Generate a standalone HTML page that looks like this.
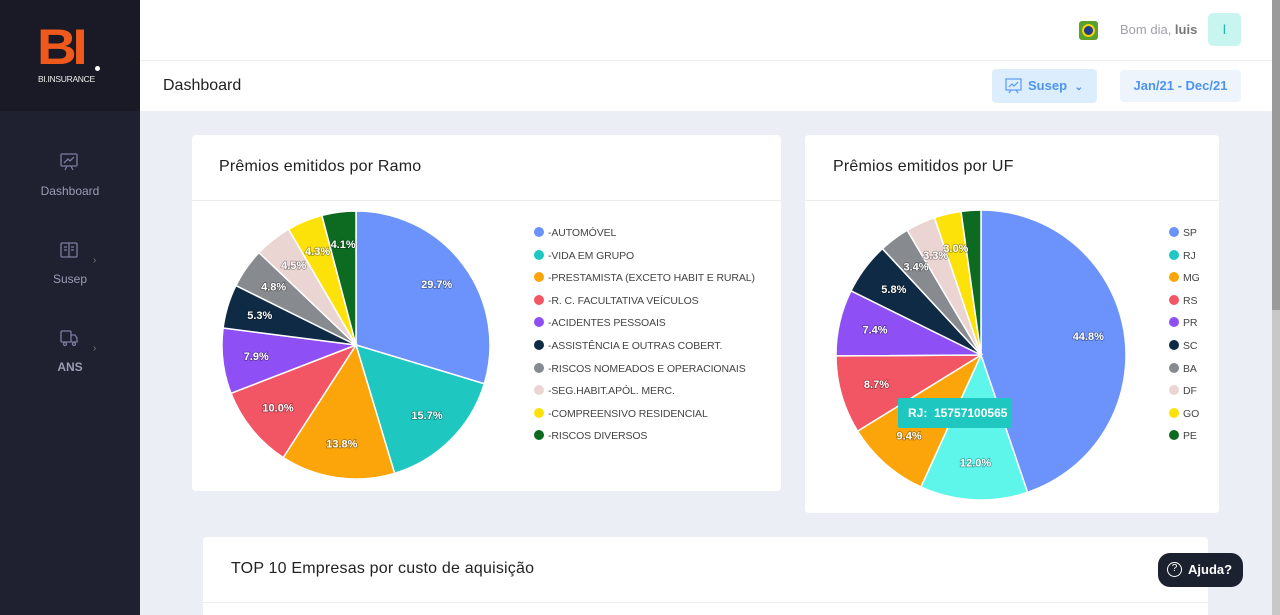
<!DOCTYPE html>
<html><head><meta charset="utf-8"><style>
*{margin:0;padding:0;box-sizing:border-box}
html,body{width:1280px;height:615px;overflow:hidden}
body{background:#eceef6;font-family:"Liberation Sans",sans-serif;position:relative}
.abs{position:absolute}
.side{left:0;top:0;width:140px;height:615px;background:#1f2030}
.logo{left:0;top:0;width:140px;height:111px;background:#191a25}
.nav{color:#9b9db5;font-size:12px;text-align:center;width:140px;left:0}
.card{background:#fff;border-radius:4px}
.ct{font-size:16px;color:#222;letter-spacing:.2px}
.leg{font-size:10.5px;color:#444;white-space:nowrap;letter-spacing:-.1px}
.dot{display:inline-block;width:10px;height:10px;border-radius:50%;margin-right:4px;vertical-align:-1px}
svg text{font-family:"Liberation Sans",sans-serif;font-weight:bold;font-size:11px;fill:#fff;text-anchor:middle;dominant-baseline:middle;paint-order:stroke;stroke:rgba(0,0,0,.35);stroke-width:1.5px}
</style></head><body>
<div class="abs side"></div>
<div class="abs logo">
 <div class="abs" style="left:37px;top:22px;font:bold 50px 'Liberation Sans';color:#ef5a1c;letter-spacing:-4px;line-height:50px;transform:scaleX(1.1);transform-origin:left">BI</div>
 <div class="abs" style="left:95px;top:66px;width:5px;height:5px;background:#fff;border-radius:50%"></div>
 <div class="abs" style="left:38px;top:74px;font-size:8.5px;color:#eee;letter-spacing:-.3px">BI.INSURANCE</div>
</div>
<svg class="abs" style="left:59px;top:152px" width="20" height="20" viewBox="0 0 20 20" fill="none" stroke="#7a7ca0" stroke-width="1.3"><rect x="2" y="2" width="16" height="12" rx="1"/><path d="M5 11l4-4 2 2 4-4M8 14l-2 4M12 14l2 4"/></svg>
<div class="abs nav" style="top:184px">Dashboard</div>
<svg class="abs" style="left:59px;top:240px" width="20" height="20" viewBox="0 0 20 20" fill="none" stroke="#7a7ca0" stroke-width="1.3"><rect x="2" y="3" width="16" height="14" rx="1"/><path d="M10 3v14M5 7h3M5 10h3M12 7h3M12 10h3"/></svg>
<div class="abs" style="left:93px;top:255px;color:#777;font-size:10px">›</div>
<div class="abs nav" style="top:272px">Susep</div>
<svg class="abs" style="left:59px;top:328px" width="20" height="20" viewBox="0 0 20 20" fill="none" stroke="#7a7ca0" stroke-width="1.3"><rect x="2" y="3" width="10" height="11" rx="1"/><path d="M12 7h4l2 3v4h-6"/><circle cx="6" cy="16" r="1.5"/><circle cx="15" cy="16" r="1.5"/></svg>
<div class="abs" style="left:93px;top:343px;color:#777;font-size:10px">›</div>
<div class="abs nav" style="top:360px;font-weight:bold">ANS</div>

<div class="abs" style="left:140px;top:0;width:1132px;height:111px;background:#fff"></div>
<div class="abs" style="left:140px;top:60px;width:1132px;height:1px;background:#eceef2"></div>
<div class="abs" style="left:1272px;top:0;width:8px;height:615px;background:#c8c8c8"></div>
<div class="abs" style="left:1272px;top:0;width:8px;height:310px;background:#9a9a9a"></div>
<div class="abs" style="left:1079px;top:21px;width:19px;height:19px;background:#5aa02c;border-radius:3px"><div class="abs" style="left:5px;top:5px;width:9px;height:9px;background:#203c8a;border-radius:50%;box-shadow:0 0 0 2px #f5d20a"></div></div>
<div class="abs" style="left:1120px;top:22px;font-size:13px;color:#a0a0a8">Bom dia, <b style="color:#777">luis</b></div>
<div class="abs" style="left:1208px;top:13px;width:33px;height:33px;background:#c9f5f0;border-radius:5px;color:#20b8a8;font-size:14px;text-align:center;line-height:33px">I</div>
<div class="abs" style="left:163px;top:77px;font-size:16px;color:#222">Dashboard</div>
<div class="abs" style="left:992px;top:69px;width:105px;height:34px;background:#dceefe;border-radius:4px"></div>
<svg class="abs" style="left:1005px;top:78px" width="17" height="16" viewBox="0 0 17 16" fill="none" stroke="#5a9af0" stroke-width="1.2"><rect x="1" y="1" width="15" height="11"/><path d="M4 9l3-3 2 2 4-4M6 12l-2 3M11 12l2 3"/></svg>
<div class="abs" style="left:1028px;top:78px;font-size:13px;font-weight:bold;color:#4e94ee">Susep <span style="font-size:10px;margin-left:4px">⌄</span></div>
<div class="abs" style="left:1120px;top:70px;width:121px;height:32px;background:#eef4fb;border-radius:4px;color:#4e94ee;font-size:13px;font-weight:bold;text-align:center;line-height:32px">Jan/21 - Dec/21</div>

<div class="abs card" style="left:192px;top:135px;width:589px;height:356px"></div>
<div class="abs" style="left:192px;top:200px;width:589px;height:1px;background:#ececf0"></div>
<div class="abs ct" style="left:219px;top:158px">Prêmios emitidos por Ramo</div>
<div class="abs card" style="left:805px;top:135px;width:414px;height:378px"></div>
<div class="abs" style="left:805px;top:200px;width:414px;height:1px;background:#ececf0"></div>
<div class="abs ct" style="left:833px;top:158px">Prêmios emitidos por UF</div>
<div class="abs card" style="left:203px;top:537px;width:1005px;height:78px;border-radius:4px 4px 0 0"></div>
<div class="abs" style="left:203px;top:602px;width:1005px;height:1px;background:#ececf0"></div>
<div class="abs ct" style="left:231px;top:560px">TOP 10 Empresas por custo de aquisição</div>
<div class="abs" style="left:1158px;top:553px;width:85px;height:34px;background:#1c2130;border-radius:12px;color:#fff;font-size:13px;font-weight:bold;line-height:34px;padding-left:30px">Ajuda?</div>
<div class="abs" style="left:1167px;top:562px;width:15px;height:15px;border:1.5px solid #fff;border-radius:50%;color:#fff;font-size:10px;text-align:center;line-height:12px">?</div>

<svg class="abs" style="left:0;top:0" width="1280" height="615" id="s"></svg>
<div id="l1"></div>
<div class="abs" style="left:898px;top:398px;width:114px;height:30px;background:#1ec8c0;border-radius:2px;color:#fff;font-size:12px;font-weight:bold;line-height:30px;padding-left:10px">RJ:&nbsp; 15757100565</div>
<script>
var cols=["#6b93fb","#1ec8c0","#fba50a","#f25563","#8e4ff5","#0f2a45","#878a8e","#ebd5d3","#fde20a","#0c6b21"];
function pie(cx,cy,r,vals,labels,colors){
 var tot=vals.reduce((a,b)=>a+b,0),a=0,h="";
 vals.forEach(function(v,i){
  var a0=a,a1=a+v/tot*2*Math.PI;a=a1;
  var x0=cx+r*Math.sin(a0),y0=cy-r*Math.cos(a0),x1=cx+r*Math.sin(a1),y1=cy-r*Math.cos(a1);
  h+='<path d="M'+cx+' '+cy+'L'+x0+' '+y0+'A'+r+' '+r+' 0 '+((a1-a0)>Math.PI?1:0)+' 1 '+x1+' '+y1+'Z" fill="'+colors[i]+'" stroke="#fff" stroke-width="1.5"/>';
 });
 a=0;
 vals.forEach(function(v,i){var m=a+v/tot*Math.PI;a+=v/tot*2*Math.PI;
  h+='<text x="'+(cx+r*0.75*Math.sin(m))+'" y="'+(cy-r*0.75*Math.cos(m))+'">'+labels[i]+'</text>';});
 return h;
}
var v1=[29.7,15.7,13.8,10.0,7.9,5.3,4.8,4.5,4.3,4.1];
var v2=[44.8,12.0,9.4,8.7,7.4,5.8,3.4,3.3,3.0,2.2];
var c2=cols.slice();c2[1]="#5ef5ea";
document.getElementById("s").innerHTML=pie(356,345,134,v1,v1.map(x=>x.toFixed(1)+"%"),cols)+pie(981,355,145,v2,v2.map((x,i)=>i==9?"":x.toFixed(1)+"%"),c2);
var n1=["-AUTOMÓVEL","-VIDA EM GRUPO","-PRESTAMISTA (EXCETO HABIT E RURAL)","-R. C. FACULTATIVA VEÍCULOS","-ACIDENTES PESSOAIS","-ASSISTÊNCIA E OUTRAS COBERT.","-RISCOS NOMEADOS E OPERACIONAIS","-SEG.HABIT.APÓL. MERC.","-COMPREENSIVO RESIDENCIAL","-RISCOS DIVERSOS"];
var n2=["SP","RJ","MG","RS","PR","SC","BA","DF","GO","PE"];
var h="";
n1.forEach(function(t,i){h+='<div class="abs leg" style="left:534px;top:'+(227+i*22.6)+'px"><span class="dot" style="background:'+cols[i]+'"></span>'+t+'</div>';});
n2.forEach(function(t,i){h+='<div class="abs leg" style="left:1169px;top:'+(227+i*22.6)+'px"><span class="dot" style="background:'+cols[i]+'"></span>'+t+'</div>';});
document.getElementById("l1").innerHTML=h;
</script>
</body></html>
